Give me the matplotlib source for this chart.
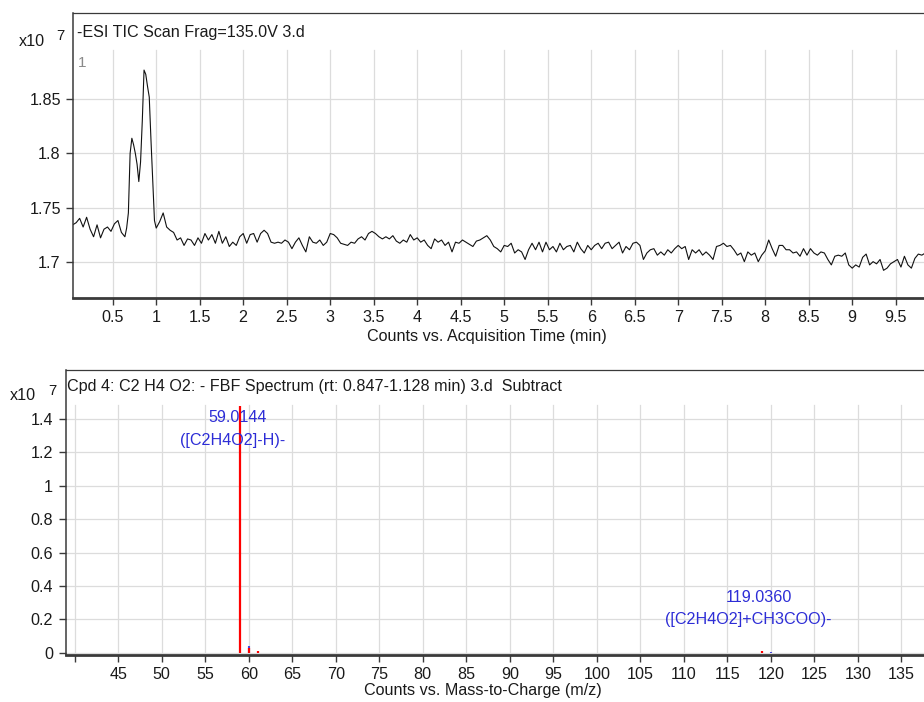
import matplotlib
matplotlib.use("Agg")
import matplotlib.pyplot as plt

plt.rcParams["font.family"] = ["Liberation Sans", "DejaVu Sans"]

# --- TIC chromatogram (counts x10^7 vs min) ---
tic_time = [
    0.04, 0.08, 0.12, 0.16, 0.20, 0.24, 0.28, 0.32, 0.36, 0.40, 0.44, 0.48, 0.52, 0.56, 0.60, 0.64,
    0.66, 0.68, 0.70, 0.72, 0.74, 0.76, 0.78, 0.80, 0.82, 0.84, 0.86, 0.88, 0.90, 0.92, 0.94, 0.96, 0.98, 1.00,
    1.04, 1.08, 1.12, 1.16, 1.20, 1.24, 1.28, 1.32, 1.36, 1.40, 1.44, 1.48, 1.52, 1.56, 1.60, 1.64, 1.68, 1.72, 1.76, 1.80, 1.84, 1.88, 1.92, 1.96, 2.00,
    2.04, 2.08, 2.12, 2.16, 2.20, 2.24, 2.28, 2.32, 2.36, 2.40, 2.44, 2.48, 2.52, 2.56, 2.60, 2.64, 2.68, 2.72, 2.76, 2.80, 2.84, 2.88, 2.92, 2.96, 3.00,
    3.04, 3.08, 3.12, 3.16, 3.20, 3.24, 3.28, 3.32, 3.36, 3.40, 3.44, 3.48, 3.52, 3.56, 3.60, 3.64, 3.68, 3.72, 3.76, 3.80, 3.84, 3.88, 3.92, 3.96, 4.00,
    4.04, 4.08, 4.12, 4.16, 4.20, 4.24, 4.28, 4.32, 4.36, 4.40, 4.44, 4.48, 4.52, 4.56, 4.60, 4.64, 4.68, 4.72, 4.76, 4.80, 4.84, 4.88, 4.92, 4.96, 5.00,
    5.04, 5.08, 5.12, 5.16, 5.20, 5.24, 5.28, 5.32, 5.36, 5.40, 5.44, 5.48, 5.52, 5.56, 5.60, 5.64, 5.68, 5.72, 5.76, 5.80, 5.84, 5.88, 5.92, 5.96, 6.00,
    6.04, 6.08, 6.12, 6.16, 6.20, 6.24, 6.28, 6.32, 6.36, 6.40, 6.44, 6.48, 6.52, 6.56, 6.60, 6.64, 6.68, 6.72, 6.76, 6.80, 6.84, 6.88, 6.92, 6.96, 7.00,
    7.04, 7.08, 7.12, 7.16, 7.20, 7.24, 7.28, 7.32, 7.36, 7.40, 7.44, 7.48, 7.52, 7.56, 7.60, 7.64, 7.68, 7.72, 7.76, 7.80, 7.84, 7.88, 7.92, 7.96, 8.00,
    8.04, 8.08, 8.12, 8.16, 8.20, 8.24, 8.28, 8.32, 8.36, 8.40, 8.44, 8.48, 8.52, 8.56, 8.60, 8.64, 8.68, 8.72, 8.76, 8.80, 8.84, 8.88, 8.92, 8.96, 9.00,
    9.04, 9.08, 9.12, 9.16, 9.20, 9.24, 9.28, 9.32, 9.36, 9.40, 9.44, 9.48, 9.52, 9.56, 9.60, 9.64, 9.68, 9.72, 9.76, 9.80, 9.84, 9.88,
]
tic_counts = [
    1.734, 1.736, 1.740, 1.732, 1.741, 1.730, 1.723, 1.734, 1.722, 1.730, 1.732, 1.728, 1.735, 1.738, 1.727, 1.723,
    1.731, 1.745, 1.800, 1.814, 1.808, 1.800, 1.790, 1.774, 1.792, 1.830, 1.877, 1.873, 1.862, 1.852, 1.812, 1.775, 1.738, 1.731,
    1.737, 1.745, 1.732, 1.729, 1.727, 1.720, 1.722, 1.715, 1.721, 1.720, 1.715, 1.722, 1.717, 1.726, 1.720, 1.725, 1.717, 1.728, 1.717, 1.723, 1.714, 1.718, 1.715, 1.723, 1.726,
    1.717, 1.725, 1.726, 1.718, 1.726, 1.729, 1.726, 1.718, 1.717, 1.718, 1.717, 1.720, 1.718, 1.712, 1.718, 1.722, 1.715, 1.709, 1.723, 1.718, 1.717, 1.720, 1.715, 1.718, 1.726,
    1.725, 1.722, 1.717, 1.716, 1.715, 1.718, 1.717, 1.721, 1.723, 1.720, 1.726, 1.728, 1.726, 1.723, 1.721, 1.723, 1.721, 1.724, 1.719, 1.717, 1.720, 1.718, 1.725, 1.720, 1.722,
    1.718, 1.720, 1.715, 1.712, 1.721, 1.718, 1.720, 1.715, 1.718, 1.709, 1.718, 1.717, 1.720, 1.718, 1.716, 1.714, 1.719, 1.720, 1.722, 1.724, 1.720, 1.714, 1.712, 1.709, 1.715,
    1.714, 1.717, 1.708, 1.711, 1.709, 1.702, 1.711, 1.717, 1.711, 1.718, 1.709, 1.718, 1.711, 1.714, 1.709, 1.717, 1.711, 1.714, 1.715, 1.709, 1.718, 1.712, 1.708, 1.715, 1.711,
    1.715, 1.717, 1.712, 1.717, 1.718, 1.712, 1.715, 1.718, 1.708, 1.714, 1.711, 1.717, 1.718, 1.715, 1.702, 1.708, 1.711, 1.712, 1.706, 1.709, 1.706, 1.711, 1.708, 1.712, 1.715,
    1.712, 1.714, 1.702, 1.711, 1.708, 1.711, 1.706, 1.709, 1.706, 1.702, 1.714, 1.715, 1.717, 1.714, 1.715, 1.711, 1.706, 1.708, 1.700, 1.709, 1.706, 1.708, 1.700, 1.706, 1.710,
    1.720, 1.712, 1.705, 1.715, 1.715, 1.711, 1.711, 1.708, 1.709, 1.705, 1.712, 1.706, 1.712, 1.708, 1.706, 1.709, 1.708, 1.702, 1.697, 1.705, 1.706, 1.705, 1.708, 1.697, 1.694,
    1.697, 1.695, 1.704, 1.707, 1.697, 1.700, 1.698, 1.702, 1.692, 1.694, 1.698, 1.700, 1.702, 1.695, 1.705, 1.697, 1.694, 1.703, 1.707, 1.706, 1.708, 1.705,
]
tic_xticks = [0.5, 1, 1.5, 2, 2.5, 3, 3.5, 4, 4.5, 5, 5.5, 6, 6.5, 7, 7.5, 8, 8.5, 9, 9.5]
tic_yticks = [1.7, 1.75, 1.8, 1.85]

# --- FBF spectrum (counts x10^7 vs m/z) ---
ms_mz_obs = [59.0144, 60.05, 61.02, 119.036]
ms_int_obs = [1.48, 0.030, 0.010, 0.008]
ms_mz_pred = [59.97, 120.03]
ms_int_pred = [0.040, 0.004]
ms_xticks = list(range(40, 140, 5))
ms_yticks = [0, 0.2, 0.4, 0.6, 0.8, 1, 1.2, 1.4]
peak_labels = [(59.0144, "59.0144", "([C2H4O2]-H)-", 1.406, 1.274, -0.35, -0.9),
               (119.036, "119.0360", "([C2H4O2]+CH3COO)-", 0.328, 0.196, -0.35, -1.65)]

W, H = 924, 702
GRID = "#dcdcdc"
DARK = "#3a3a3a"
BLUE = "#2d2dd6"
FS = 11.6


def fig_rect(x0, y0, x1, y1):
    return [x0 / W, 1 - y1 / H, (x1 - x0) / W, (y1 - y0) / H]


def style(ax, xticks, yticks, grid_top):
    ax.spines["right"].set_visible(False)
    ax.spines["left"].set_color(DARK); ax.spines["left"].set_linewidth(1.1)
    ax.spines["top"].set_color(DARK); ax.spines["top"].set_linewidth(0.9)
    ax.spines["bottom"].set_color(DARK); ax.spines["bottom"].set_linewidth(2.0)
    for x in xticks:
        ax.axvline(x, ymax=grid_top, color=GRID, lw=0.9, zorder=0)
    for y in yticks:
        ax.axhline(y, color=GRID, lw=0.9, zorder=0)
    ax.set_xticks(xticks); ax.set_yticks(yticks)
    ax.tick_params(direction="out", length=5, width=1, color=DARK, labelsize=FS, labelcolor="#1a1a1a", pad=4)


fig = plt.figure(figsize=(W / 100, H / 100), dpi=100)

# top panel
ax1 = fig.add_axes(fig_rect(73.3, 12.7, 930, 297.7))
ax1.set_xlim(0.047, 9.894); ax1.set_ylim(1.6667, 1.930)
style(ax1, tic_xticks, tic_yticks, 0.869)
ax1.set_xticklabels([f"{v:g}" for v in tic_xticks])
ax1.set_yticklabels([f"{v:g}" for v in tic_yticks])
ax1.plot(tic_time, tic_counts, color="#111111", lw=0.8)
ax1.set_xlabel("Counts vs. Acquisition Time (min)", fontsize=FS, color="#1a1a1a")
ax1.xaxis.set_label_coords(0.483, -0.11)
fig.text(77 / W, 1 - 33 / H, "-ESI TIC Scan Frag=135.0V 3.d", fontsize=FS, va="center", ha="left", color="#1a1a1a")
fig.text(78 / W, 1 - 63 / H, "1", fontsize=FS - 0.5, va="center", color="#8a8a8a")
fig.text(19 / W, 1 - 41 / H, "x10", fontsize=FS, va="center", color="#1a1a1a")
fig.text(56 / W, 1 - 36 / H, "7", fontsize=FS - 1, va="center", color="#1a1a1a")

# bottom panel
ax2 = fig.add_axes(fig_rect(65.7, 370, 930, 654.5))
ax2.set_xlim(38.954, 138.3); ax2.set_ylim(-0.011, 1.6934)
style(ax2, ms_xticks, ms_yticks, 0.877)
ax2.set_xticklabels(["" if v == 40 else str(v) for v in ms_xticks])
ax2.set_yticklabels([f"{v:g}" for v in ms_yticks])
ax2.vlines(ms_mz_pred, 0, ms_int_pred, color="#4a4ae0", lw=1.5, zorder=2)
ax2.vlines(ms_mz_obs, 0, ms_int_obs, color="#ff0000", lw=1.6, zorder=3)
for mz, l1, l2, y1, y2, dx1, dx2 in peak_labels:
    ax2.text(mz + dx1, y1, l1, ha="center", va="center", fontsize=FS, color=BLUE, zorder=4)
    ax2.text(mz + dx2, y2, l2, ha="center", va="center", fontsize=FS, color=BLUE, zorder=4)
ax2.set_xlabel("Counts vs. Mass-to-Charge (m/z)", fontsize=FS, color="#1a1a1a")
ax2.xaxis.set_label_coords(0.483, -0.10)
fig.text(67 / W, 1 - 387 / H, "Cpd 4: C2 H4 O2: - FBF Spectrum (rt: 0.847-1.128 min) 3.d  Subtract",
         fontsize=FS, va="center", ha="left", color="#1a1a1a")
fig.text(10 / W, 1 - 396 / H, "x10", fontsize=FS, va="center", color="#1a1a1a")
fig.text(48 / W, 1 - 391 / H, "7", fontsize=FS - 1, va="center", color="#1a1a1a")

fig.savefig("out.png", dpi=100)
